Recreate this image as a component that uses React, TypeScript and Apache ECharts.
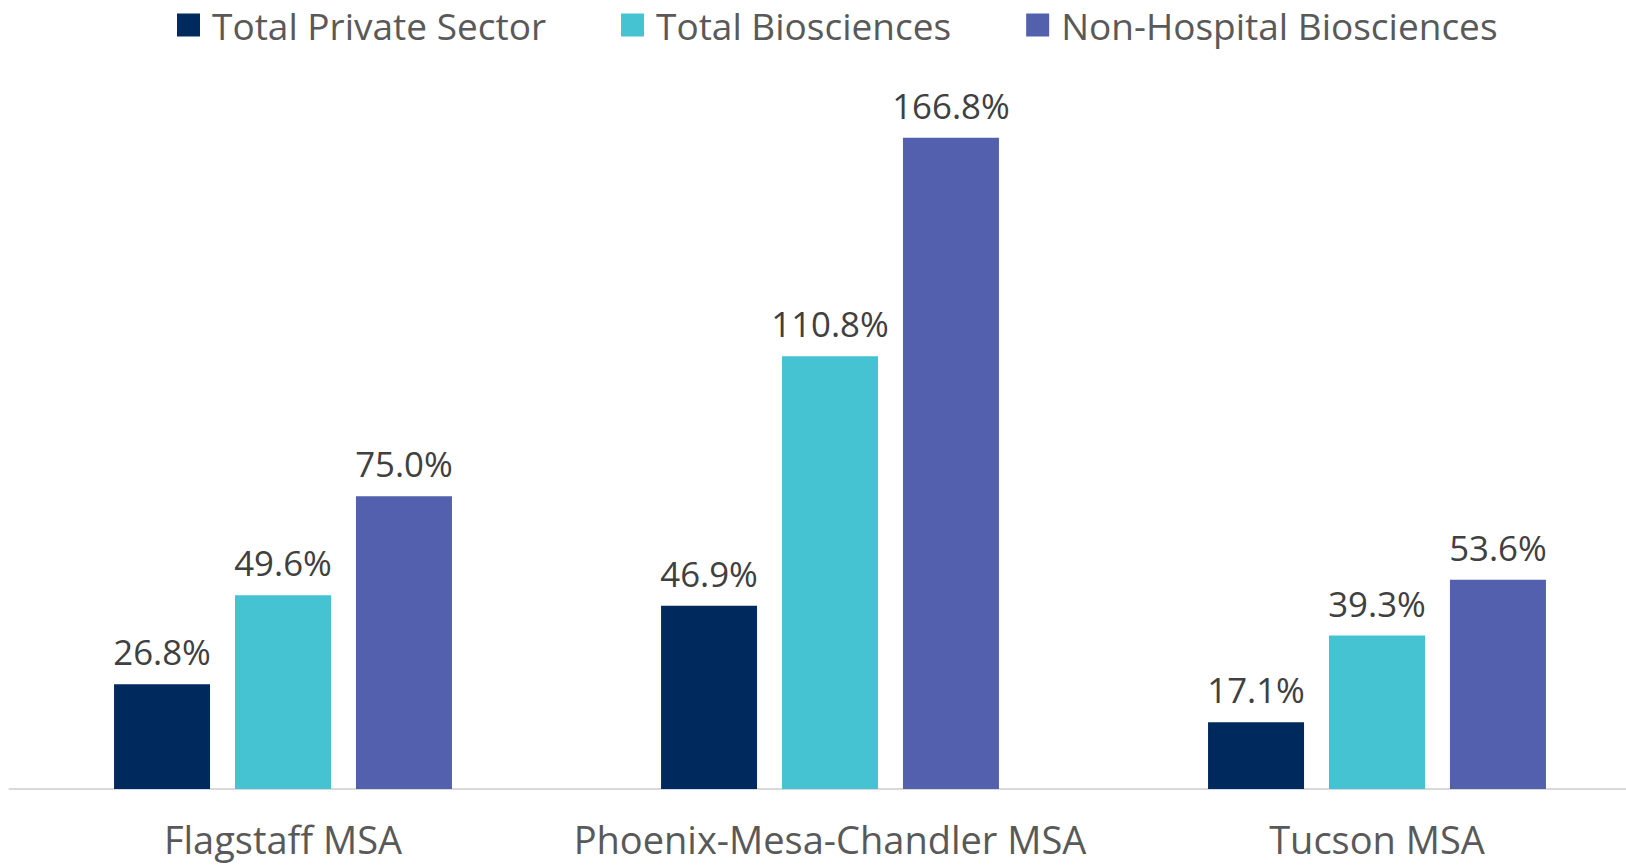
import React, { useEffect, useRef } from "react";
import * as echarts from "echarts";

const categories = ["Flagstaff MSA", "Phoenix-Mesa-Chandler MSA", "Tucson MSA"];
const seriesNames = ["Total Private Sector", "Total Biosciences", "Non-Hospital Biosciences"];
const totalPrivate = [26.8, 46.9, 17.1];
const totalBio = [49.6, 110.8, 39.3];
const nonHospitalBio = [75.0, 166.8, 53.6];
const colors = ["#002A5E", "#45C3D2", "#5260AD"];

const CHART_W = 1660;

export default function App() {
  const ref = useRef<HTMLDivElement>(null);
  useEffect(() => {
    if (!ref.current) return;
    const chart = echarts.init(ref.current, null, { renderer: "svg" });
    const font = "'Open Sans', 'Noto Sans', sans-serif";
    const values = [totalPrivate, totalBio, nonHospitalBio];
    chart.setOption({
      animation: false,
      backgroundColor: "#ffffff",
      legend: {
        left: 177,
        top: 0,
        padding: 0,
        itemWidth: 23,
        itemHeight: 23,
        itemGap: 75,
        icon: "rect",
        data: seriesNames,
        textStyle: {
          fontFamily: font,
          fontSize: 37,
          lineHeight: 50,
          color: "#595959",
          padding: [0, 0, 0, 7],
        },
      },
      grid: { left: 9.5, right: CHART_W - 1650.5, top: 8, bottom: 76, containLabel: false },
      xAxis: {
        type: "category",
        data: categories,
        axisLine: { show: true, lineStyle: { color: "#D9D9D9", width: 2 } },
        axisTick: { show: false },
        axisLabel: {
          interval: 0,
          margin: 31,
          fontFamily: font,
          fontSize: 38,
          color: "#595959",
        },
      },
      yAxis: {
        type: "value",
        min: 0,
        max: 200,
        show: false,
        splitLine: { show: false },
      },
      series: seriesNames.map((name, i) => ({
        name,
        type: "bar",
        data: values[i],
        barWidth: 96,
        barGap: "26%",
        itemStyle: { color: colors[i] },
        label: {
          show: true,
          position: "top",
          distance: 15,
          fontFamily: font,
          fontSize: 34.8,
          color: "#404040",
          formatter: (p: any) => p.value.toFixed(1) + "%",
        },
      })),
    });
    return () => chart.dispose();
  }, []);
  return (
    <div style={{ position: "absolute", left: 0, top: 0, width: 1626, height: 865, overflow: "hidden", background: "#fff" }}>
      <div ref={ref} style={{ width: CHART_W, height: 865 }} />
    </div>
  );
}
